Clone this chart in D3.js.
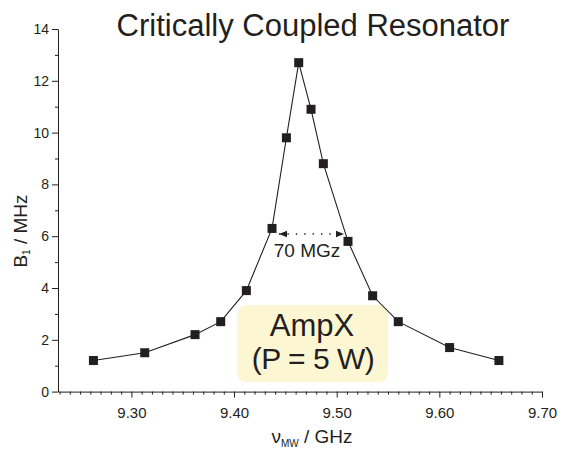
<!DOCTYPE html>
<html lang="en">
<head>
<meta charset="UTF-8">
<title>Critically Coupled Resonator</title>
<script src="https://d3js.org/d3.v7.min.js"></script>
<style>
  body { margin: 0; background: #fff; }
  text { font-family: "Liberation Sans", Arial, sans-serif; fill: #231f20; }
</style>
</head>
<body>
<div id="chart"></div>
<script>
// Data
const freq = [9.263, 9.313, 9.362, 9.387, 9.412, 9.437, 9.451, 9.463, 9.475, 9.487, 9.511, 9.535, 9.560, 9.610, 9.658];
const b1   = [1.2, 1.5, 2.2, 2.7, 3.9, 6.3, 9.8, 12.7, 10.9, 8.8, 5.8, 3.7, 2.7, 1.7, 1.2];
const xTicks = [9.30, 9.40, 9.50, 9.60, 9.70];
const yTicks = [0, 2, 4, 6, 8, 10, 12, 14];

const width = 562, height = 456;
const margin = {left: 58, right: 20, top: 29, bottom: 64};

const svg = d3.select("#chart").append("svg")
    .attr("width", width)
    .attr("height", height);

const x = d3.scaleLinear().domain([9.2285, 9.70]).range([margin.left, 542]);
const y = d3.scaleLinear().domain([0, 14]).range([391.6, margin.top]);

// x axis: major ticks + minor ticks every 0.01
const xAxis = svg.append("g").attr("transform", `translate(0,${y(0)})`);
xAxis.call(d3.axisBottom(x).tickValues(xTicks).tickFormat(d3.format(".2f")).tickSize(6).tickSizeOuter(0));
xAxis.append("g").call(d3.axisBottom(x)
    .tickValues(d3.range(9.23, 9.705, 0.01).filter(v => Math.abs(v * 10 - Math.round(v * 10)) > 0.01))
    .tickFormat("").tickSize(3).tickSizeOuter(0))
  .select(".domain").remove();

// y axis: major every 2, minor every 1
const yAxis = svg.append("g").attr("transform", `translate(${margin.left},0)`);
yAxis.call(d3.axisLeft(y).tickValues(yTicks).tickSize(6).tickSizeOuter(0));
yAxis.append("g").call(d3.axisLeft(y).tickValues([1, 3, 5, 7, 9, 11, 13]).tickFormat("").tickSize(3).tickSizeOuter(0))
  .select(".domain").remove();

svg.selectAll(".tick text").style("font-family", "Liberation Sans, Arial, sans-serif").attr("fill", "#231f20");
svg.selectAll(".domain, .tick line").attr("stroke", "#231f20");
xAxis.selectAll(".tick text").attr("font-size", 15).attr("dy", "1.15em");
yAxis.selectAll(".tick text").attr("font-size", 14);

// Annotation box
svg.append("rect")
    .attr("x", 237).attr("y", 305)
    .attr("width", 151).attr("height", 77)
    .attr("rx", 9)
    .attr("fill", "#fcf6d2");
svg.append("text").attr("x", 312).attr("y", 336).attr("text-anchor", "middle")
    .attr("font-size", 31).text("AmpX");
svg.append("text").attr("x", 313).attr("y", 369).attr("text-anchor", "middle")
    .attr("font-size", 30).attr("letter-spacing", -0.5).text("(P = 5 W)");

// Line + markers
const pts = freq.map((f, i) => [f, b1[i]]);
svg.append("path")
    .datum(pts)
    .attr("fill", "none")
    .attr("stroke", "#231f20")
    .attr("stroke-width", 1.1)
    .attr("d", d3.line().x(d => x(d[0])).y(d => y(d[1])));

svg.append("g").selectAll("rect")
    .data(pts)
    .join("rect")
    .attr("x", d => x(d[0]) - 4.5)
    .attr("y", d => y(d[1]) - 4.5)
    .attr("width", 9).attr("height", 9)
    .attr("fill", "#231f20");

// FWHM dotted arrow
const defs = svg.append("defs");
defs.append("marker").attr("id", "arr").attr("viewBox", "0 0 10 10")
    .attr("refX", 10).attr("refY", 5).attr("markerWidth", 6).attr("markerHeight", 6)
    .attr("orient", "auto-start-reverse")
  .append("path").attr("d", "M0,1 L10,5 L0,9 z").attr("fill", "#231f20");
svg.append("line")
    .attr("x1", 279).attr("x2", 344).attr("y1", 234).attr("y2", 234)
    .attr("stroke", "#231f20").attr("stroke-width", 1.4)
    .attr("stroke-dasharray", "1.4,7")
    .attr("marker-start", "url(#arr)").attr("marker-end", "url(#arr)");
svg.append("text").attr("x", 307).attr("y", 257).attr("text-anchor", "middle")
    .attr("font-size", 19).text("70 MGz");

// Title
svg.append("text").attr("x", 313).attr("y", 36).attr("text-anchor", "middle")
    .attr("font-size", 31).text("Critically Coupled Resonator");

// Axis titles
const yl = svg.append("text")
    .attr("transform", "translate(27,231) rotate(-90)")
    .attr("text-anchor", "middle").attr("font-size", 19);
yl.append("tspan").text("B");
yl.append("tspan").attr("font-size", 10).attr("dy", 3).text("1");
yl.append("tspan").attr("dy", -3).text(" / MHz");

const xl = svg.append("text")
    .attr("x", 312).attr("y", 443)
    .attr("text-anchor", "middle").attr("font-size", 19);
xl.append("tspan").text("ν");
xl.append("tspan").attr("font-size", 10).attr("dy", 4).text("MW");
xl.append("tspan").attr("dy", -4).text(" / GHz");
</script>
</body>
</html>
